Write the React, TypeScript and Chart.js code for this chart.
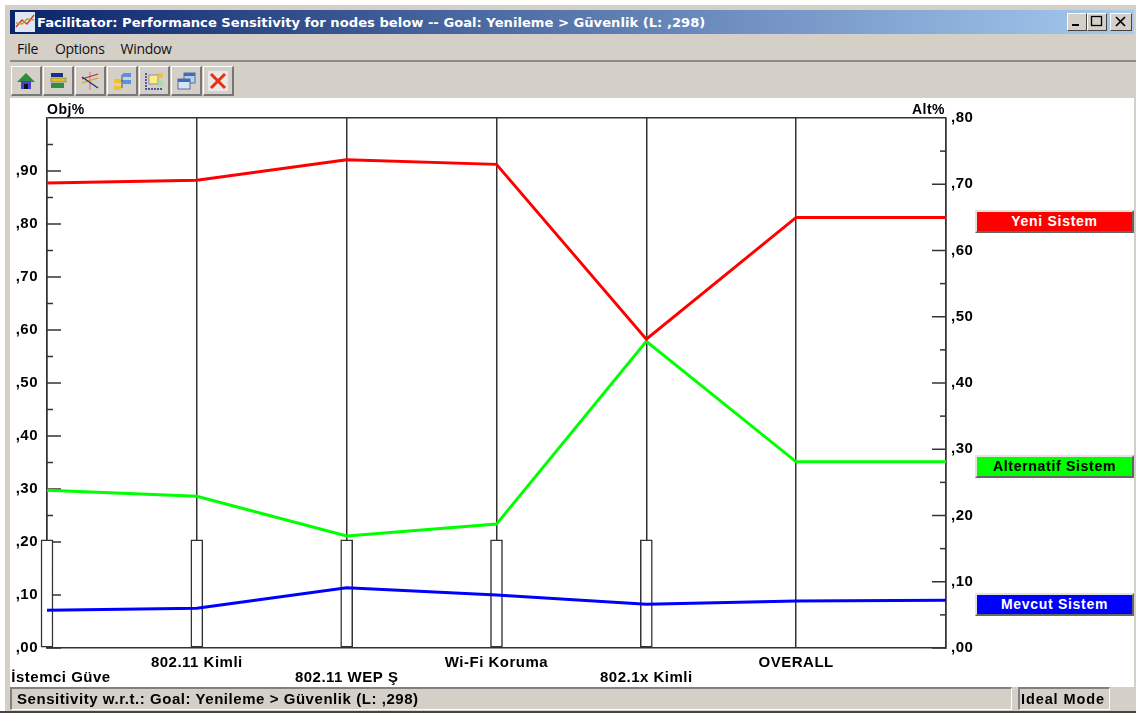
import React, { useEffect, useRef } from "react";
import { Chart, registerables } from "chart.js";

Chart.register(...registerables);

const categories = ["İstemci Güve", "802.11 Kimli", "802.11 WEP Ş", "Wi-Fi Koruma", "802.1x Kimli", "OVERALL", ""];
const yeniSistem = [0.702, 0.706, 0.737, 0.73, 0.466, 0.65, 0.65];
const alternatifSistem = [0.238, 0.229, 0.169, 0.187, 0.463, 0.281, 0.281];
const mevcutSistem = [0.057, 0.06, 0.091, 0.08, 0.066, 0.071, 0.072];
const nodeWeights = [0.204, 0.204, 0.204, 0.204, 0.204, null, null];

const legendItems = [
  { name: "Yeni Sistem", bg: "#ff0000", fg: "#ffffff", top: 210 },
  { name: "Alternatif Sistem", bg: "#00ff00", fg: "#000000", top: 455 },
  { name: "Mevcut Sistem", bg: "#0000ff", fg: "#ffffff", top: 593 },
];
const menuItems = ["File", "Options", "Window"];

const AXIS = "#333333";
const LABEL_FONT = '"Liberation Sans", Arial, sans-serif';

const fmt = (v: number) => "," + String(Math.round(v * 100)).padStart(2, "0");
const isMajor = (v: number) => Math.abs(v * 10 - Math.round(v * 10)) < 1e-6;

const inwardTicks = {
  id: "inwardTicks",
  beforeDraw(chart: any) {
    chart.ctx.letterSpacing = "0.5px";
  },
  beforeDatasetsDraw(chart: any) {
    const { ctx, scales, chartArea } = chart;
    ctx.save();
    ctx.strokeStyle = AXIS;
    ctx.lineWidth = 1.5;
    for (const t of scales.y.ticks) {
      if (t.value >= 1) continue;
      const y = scales.y.getPixelForValue(t.value);
      ctx.beginPath();
      ctx.moveTo(chartArea.left, y);
      ctx.lineTo(chartArea.left + (isMajor(t.value) ? 14 : 6), y);
      ctx.stroke();
    }
    for (const t of scales.y1.ticks) {
      if (t.value >= 0.8) continue;
      const y = scales.y1.getPixelForValue(t.value);
      ctx.beginPath();
      ctx.moveTo(chartArea.right, y);
      ctx.lineTo(chartArea.right - (isMajor(t.value) ? 14 : 6), y);
      ctx.stroke();
    }
    ctx.restore();
  },
  afterDraw(chart: any) {
    const { ctx, chartArea } = chart;
    ctx.save();
    ctx.fillStyle = "#000";
    ctx.font = `bold 14px ${LABEL_FONT}`;
    ctx.textBaseline = "bottom";
    ctx.textAlign = "left";
    ctx.fillText("Obj%", chartArea.left, chartArea.top - 1);
    ctx.textAlign = "right";
    ctx.fillText("Alt%", chartArea.right - 1, chartArea.top - 1);
    ctx.restore();
  },
};

function Icon({ i }: { i: number }) {
  const shapes = [
    <g key="h"><path d="M10 2 L19 11 H1 Z" fill="#2e8b3a" /><rect x="5" y="10" width="10" height="8" fill="#4a3fd0" /><rect x="8" y="13" width="4" height="5" fill="#111" /></g>,
    <g key="s"><rect x="3" y="2" width="12" height="4" fill="#1a2f8a" /><rect x="3" y="7" width="15" height="4" fill="#e3c21a" stroke="#555" strokeWidth="0.5" /><rect x="3" y="12" width="13" height="5" fill="#2d8f4a" /></g>,
    <g key="l" fill="none" strokeWidth="1.3"><path d="M10 1 V19" stroke="#f08080" /><path d="M2 8 L18 3" stroke="#b03030" /><path d="M2 12 L18 7" stroke="#d4a020" /><path d="M2 6 L18 17" stroke="#20307a" /></g>,
    <g key="t"><rect x="2" y="8" width="7" height="4" fill="#f0c030" /><rect x="2" y="15" width="7" height="4" fill="#f0c030" /><rect x="11" y="2" width="8" height="4" fill="#5a90e0" /><rect x="11" y="9" width="8" height="4" fill="#5a90e0" /><path d="M9 10 H11 M10 4 V17 M10 4 H11" stroke="#3050a0" fill="none" /></g>,
    <g key="b"><path d="M2 2 V18 H19" stroke="#1a2f8a" strokeWidth="1.4" fill="none" strokeDasharray="2 1" /><rect x="5" y="4" width="9" height="9" fill="#fdf07a" stroke="#8a8ac0" /><rect x="14" y="2" width="5" height="5" fill="#f0c040" /><rect x="14" y="10" width="5" height="5" fill="#a0e0a0" /></g>,
    <g key="w"><rect x="8" y="2" width="11" height="10" fill="#b8cde8" stroke="#5070a0" /><rect x="8" y="2" width="11" height="3" fill="#3c6cc0" /><rect x="2" y="8" width="12" height="10" fill="#d8e4f0" stroke="#5070a0" /><rect x="2" y="8" width="12" height="3" fill="#3c6cc0" /></g>,
    <g key="x"><rect x="0" y="0" width="20" height="20" fill="#e8e8e8" /><path d="M3 3 L17 17 M17 3 L3 17" stroke="#e83010" strokeWidth="3" /></g>,
  ];
  return (
    <div style={{ width: 31, height: 30, boxSizing: "border-box", marginRight: 1, background: "#d4d0c8", borderTop: "1px solid #fff", borderLeft: "1px solid #fff", borderRight: "2px solid #777", borderBottom: "2px solid #777", display: "flex", alignItems: "center", justifyContent: "center" }}>
      <svg width="20" height="20" viewBox="0 0 20 20">{shapes[i]}</svg>
    </div>
  );
}

function WinBtn({ c }: { c: string }) {
  return (
    <div style={{ width: c === "x" ? 22 : 20, height: 18, boxSizing: "border-box", marginLeft: c === "x" ? 3 : c === "max" ? 0 : 0, background: "#d4d0c8", borderTop: "1px solid #fff", borderLeft: "1px solid #fff", borderRight: "1.5px solid #444", borderBottom: "1.5px solid #444", position: "relative" }}>
      <svg width="17" height="15" viewBox="0 0 17 15" style={{ position: "absolute", left: c === "x" ? 1 : 0, top: 0 }}>
        {c === "min" && <rect x="4" y="10" width="7" height="2" fill="#000" />}
        {c === "max" && <rect x="3.5" y="2.5" width="10" height="9" fill="none" stroke="#000" strokeWidth="1.3" />}
        {c === "x" && <path d="M4 3 L13 12 M13 3 L4 12" stroke="#000" strokeWidth="1.7" />}
      </svg>
    </div>
  );
}

export default function App() {
  const ref = useRef<HTMLCanvasElement>(null);

  useEffect(() => {
    document.body.style.margin = "0";
    const line = (label: string, data: number[], color: string) => ({
      type: "line" as const,
      label,
      data,
      borderColor: color,
      backgroundColor: color,
      borderWidth: 3,
      pointRadius: 0,
      tension: 0,
      yAxisID: "y1",
      order: 1,
      clip: false,
    });
    const chart = new Chart(ref.current!, {
      type: "bar",
      data: {
        labels: categories,
        datasets: [
          line("Yeni Sistem", yeniSistem, "#ff0000"),
          line("Alternatif Sistem", alternatifSistem, "#00ff00"),
          line("Mevcut Sistem", mevcutSistem, "#0000ff"),
          {
            type: "bar" as const,
            label: "Node weight",
            data: nodeWeights,
            backgroundColor: "#ffffff",
            borderColor: AXIS,
            borderWidth: 1.5,
            borderSkipped: false,
            barThickness: 12,
            yAxisID: "y",
            order: 2,
            clip: false,
          } as any,
        ],
      },
      options: {
        animation: false,
        responsive: false,
        devicePixelRatio: 1,
        layout: { autoPadding: false, padding: { top: 20, left: 0, right: 0, bottom: 0 } },
        plugins: { legend: { display: false }, tooltip: { enabled: false } },
        scales: {
          x: {
            type: "category",
            offset: false,
            grid: { color: AXIS, lineWidth: 1.5, drawTicks: false, offset: false },
            border: { color: AXIS, width: 1.5 },
            ticks: {
              autoSkip: false,
              maxRotation: 0,
              minRotation: 0,
              padding: 7,
              color: "#000",
              font: { family: LABEL_FONT, weight: "bold", size: 15, lineHeight: 1.0 },
              callback(_v: any, i: number) {
                const label = categories[i];
                if (i === 0) return ["", "\u00a0".repeat(6) + label];
                return i % 2 === 0 ? ["", label] : [label, ""];
              },
            },
            afterFit(s: any) {
              s.height = 40;
              s.paddingLeft = 0;
              s.paddingRight = 0;
            },
          },
          y: {
            position: "left",
            min: 0,
            max: 1,
            grid: {
              drawTicks: false,
              lineWidth: 1.5,
              color: (c: any) => (c.tick && c.tick.value >= 1 ? AXIS : "transparent"),
            },
            border: { color: AXIS, width: 1.5 },
            ticks: {
              stepSize: 0.05,
              autoSkip: false,
              padding: 9,
              color: "#000",
              font: { family: LABEL_FONT, weight: "bold", size: 15 },
              callback: (v: any) => (isMajor(+v) && +v < 1 ? fmt(+v) : ""),
            },
            afterFit(s: any) { s.width = 47; },
          },
          y1: {
            position: "right",
            min: 0,
            max: 0.8,
            grid: { drawOnChartArea: false, drawTicks: false },
            border: { color: AXIS, width: 1.5 },
            ticks: {
              stepSize: 0.05,
              autoSkip: false,
              padding: 5,
              color: "#000",
              font: { family: LABEL_FONT, weight: "bold", size: 15 },
              callback: (v: any) => (isMajor(+v) ? fmt(+v) : ""),
            },
            afterFit(s: any) { s.width = 29; },
          },
        },
      } as any,
      plugins: [inwardTicks],
    });
    return () => chart.destroy();
  }, []);

  return (
    <div style={{ position: "relative", width: 1136, height: 714, background: "#fff", overflow: "hidden", fontFamily: LABEL_FONT }}>
      <div style={{ position: "absolute", left: 5, top: 5, right: 0, bottom: 3, background: "#d4d0c8" }} />
      <div style={{ position: "absolute", left: 10, top: 10, width: 1124, height: 24, background: "linear-gradient(90deg,#0a246a,#a6caf0)", display: "flex", alignItems: "center", color: "#fff", fontFamily: '"DejaVu Sans", sans-serif', fontWeight: "bold", fontSize: 13.14, whiteSpace: "nowrap" }}>
        <svg width="24" height="22" viewBox="0 0 24 22" style={{ marginLeft: 3 }}>
          <rect x="2" y="1" width="20" height="20" fill="#dfe6f2" />
          <path d="M3 16 L9 9 L14 13 L21 4" stroke="#d04030" strokeWidth="1.5" fill="none" />
          <path d="M3 12 L9 13 L14 8 L21 9" stroke="#c0a020" strokeWidth="1.5" fill="none" />
        </svg>
        <span>Facilitator: Performance Sensitivity for nodes below -- Goal: Yenileme &gt; Güvenlik (L: ,298)</span>
        <div style={{ position: "absolute", right: 2, top: 3, display: "flex" }}>
          <WinBtn c="min" /><WinBtn c="max" /><WinBtn c="x" />
        </div>
      </div>
      <div style={{ position: "absolute", left: 17, top: 39, display: "flex", fontSize: 14, color: "#111", fontFamily: '"Open Sans", sans-serif', letterSpacing: -0.3 }}>
        {menuItems.map((m, i) => <span key={m} style={{ marginRight: 16, marginLeft: i === 1 ? 1 : 0 }}>{m}</span>)}
      </div>
      <div style={{ position: "absolute", left: 10, top: 60, right: 0, height: 2, background: "#8c8a84" }} />
      <div style={{ position: "absolute", left: 11, top: 66, display: "flex" }}>
        {[0, 1, 2, 3, 4, 5, 6].map((i) => <Icon key={i} i={i} />)}
      </div>
      <div style={{ position: "absolute", left: 10, top: 98, right: 2, height: 589, background: "#fff" }} />
      <canvas ref={ref} width={975} height={590} style={{ position: "absolute", left: 0, top: 98, width: 975, height: 590 }} />
      {legendItems.map((l) => (
        <div key={l.name} style={{ position: "absolute", left: 975, top: l.top, width: 159, height: 23, boxSizing: "border-box", background: l.bg, color: l.fg, borderTop: "2px solid #e4e2dc", borderLeft: "2px solid #e4e2dc", borderRight: "2px solid #666", borderBottom: "2px solid #666", textAlign: "center", fontWeight: "bold", fontSize: 14, lineHeight: "19px", letterSpacing: 0.7 }}>
          {l.name}
        </div>
      ))}
      <div style={{ position: "absolute", left: 10, top: 687, width: 1002, height: 23, boxSizing: "border-box", borderTop: "2px solid #808080", borderLeft: "2px solid #808080", borderRight: "1px solid #fff", borderBottom: "1px solid #fff", paddingLeft: 5, fontWeight: "bold", fontSize: 15, lineHeight: "20px", whiteSpace: "nowrap", letterSpacing: 0.55 }}>
        Sensitivity w.r.t.: Goal: Yenileme &gt; Güvenlik (L: ,298)
      </div>
      <div style={{ position: "absolute", left: 1018, top: 687, width: 92, height: 23, boxSizing: "border-box", borderTop: "2px solid #808080", borderLeft: "2px solid #808080", borderRight: "1px solid #fff", borderBottom: "1px solid #fff", paddingLeft: 1, fontWeight: "bold", fontSize: 14.5, lineHeight: "20px", whiteSpace: "nowrap", letterSpacing: 0.9 }}>
        Ideal Mode
      </div>
      <div style={{ position: "absolute", left: 0, right: 0, top: 711, height: 2, background: "#444" }} />
    </div>
  );
}
